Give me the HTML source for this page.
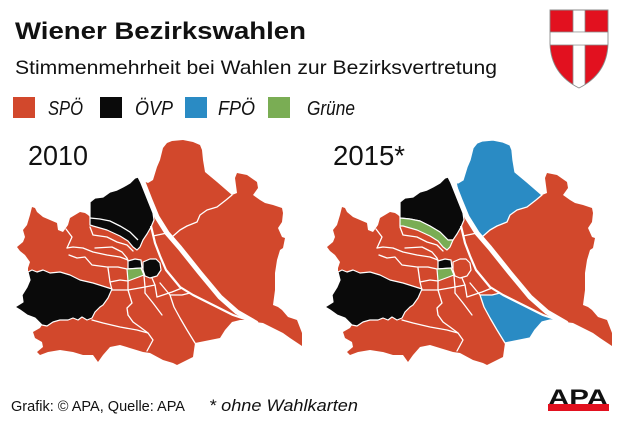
<!DOCTYPE html>
<html>
<head>
<meta charset="utf-8">
<style>
  html,body{margin:0;padding:0;background:#fff;}
  body{width:620px;height:423px;overflow:hidden;}
  svg{display:block;}
  .t{font-family:"Liberation Sans",sans-serif;fill:#111;}
</style>
</head>
<body>
<svg width="620" height="423" viewBox="0 0 620 423" xmlns="http://www.w3.org/2000/svg">
  <rect width="620" height="423" fill="#fff"/>

  <!-- Header -->
  <text class="t" x="15" y="39" font-size="24.5" font-weight="bold" textLength="291" lengthAdjust="spacingAndGlyphs">Wiener Bezirkswahlen</text>
  <text class="t" x="15" y="74" font-size="19.5" textLength="482" lengthAdjust="spacingAndGlyphs">Stimmenmehrheit bei Wahlen zur Bezirksvertretung</text>

  <!-- Legend -->
  <rect x="13" y="97" width="22" height="21" fill="#d2482c"/>
  <text class="t" x="48" y="115" font-size="20.5" font-style="italic" textLength="35" lengthAdjust="spacingAndGlyphs">SPÖ</text>
  <rect x="100" y="97" width="22" height="21" fill="#0a0a0a"/>
  <text class="t" x="135" y="115" font-size="20.5" font-style="italic" textLength="38" lengthAdjust="spacingAndGlyphs">ÖVP</text>
  <rect x="185" y="97" width="22" height="21" fill="#2a8bc4"/>
  <text class="t" x="218" y="115" font-size="20.5" font-style="italic" textLength="37" lengthAdjust="spacingAndGlyphs">FPÖ</text>
  <rect x="268" y="97" width="22" height="21" fill="#7aad54"/>
  <text class="t" x="307" y="115" font-size="20.5" font-style="italic" textLength="48" lengthAdjust="spacingAndGlyphs">Grüne</text>

  <!-- Coat of arms -->
  <defs>
    <clipPath id="shield">
      <path d="M550,10 H608 V44 Q607,74 579,88 Q551,74 550,44 Z"/>
    </clipPath>
  </defs>
  <path d="M550,10 H608 V44 Q607,74 579,88 Q551,74 550,44 Z" fill="#e2111f"/>
  <g clip-path="url(#shield)">
    <rect x="573" y="8" width="12" height="84" fill="#fff" stroke="#8a8a8a" stroke-width="0.8"/>
    <rect x="548" y="32" width="62" height="13" fill="#fff" stroke="#8a8a8a" stroke-width="0.8"/>
    <rect x="573.4" y="32.4" width="11.2" height="12.2" fill="#fff"/>
  </g>
  <path d="M550,10 H608 V44 Q607,74 579,88 Q551,74 550,44 Z" fill="none" stroke="#8a8a8a" stroke-width="0.9"/>

  <!-- Year labels -->
  <text class="t" x="28" y="165" font-size="28" textLength="60" lengthAdjust="spacingAndGlyphs">2010</text>
  <text class="t" x="333" y="165" font-size="28" textLength="72" lengthAdjust="spacingAndGlyphs">2015*</text>

  <!-- ================= MAP 2010 ================= -->
  <g id="m2010">
    <polygon fill="#d2482c" points="17,247 23,242 25,237 23,230 27,225 30,215 32,207 35,208 37,212 43,217 50,220 57,223 58,230 63,232 68,225 70,218 75,215 80,212 85,213 88,215 90,217 90,202 95,198 103,197 110,192 117,190 123,187 130,183 135,178 138,177 143,181 148,183 153,180 157,167 160,160 163,148 167,143 172,141 183,140 193,142 200,145 202,150 203,160 205,172 217,182 232,195 237,193 235,178 237,173 247,175 257,182 258,188 253,195 260,200 265,203 273,205 282,208 283,213 282,222 278,228 282,237 285,238 283,248 280,250 277,260 275,273 275,290 273,305 278,307 282,310 288,317 297,320 302,333 302,346 290,338 283,333 273,328 263,323 255,322 248,320 240,320 232,322 225,330 220,338 210,340 195,343 193,357 177,365 173,363 163,360 150,353 143,352 120,345 110,347 103,355 98,362 93,355 83,355 73,352 60,350 48,352 40,355 37,352 43,347 42,342 35,338 33,332 40,328 42,325 35,318 27,315 20,310 15,307 23,302 22,295 27,287 30,280 28,273 28,268 30,262 25,255 20,251"/>
    <g fill="none" stroke="#fff" stroke-width="1.3" stroke-linejoin="round" stroke-linecap="round">
      <polyline points="232,195 226,200 217,207 207,210 200,215 197,222 187,226 180,230 172,237"/>
      <polyline points="66,229 72,237 67,248"/>
      <polyline points="67,248 73,247 83,248 93,252 107,255 120,257 128,260"/>
      <polyline points="90,227 93,235 107,237 117,242 127,245 133,251"/>
      <polyline points="69,255 77,258 85,257 92,265 107,267 118,267 127,269"/>
      <polyline points="95,248 112,247 122,252 127,258 128,261"/>
      <polyline points="110,282 120,280 128,281"/>
      <polyline points="108,268 110,282 112,290"/>
      <polyline points="112,290 128,290 145,287 155,285"/>
      <polyline points="128,281 128,290 132,303 127,308 128,315"/>
      <polyline points="144,276 145,287 145,293"/>
      <polyline points="152,278 155,285 157,297"/>
      <polyline points="145,293 153,303 162,315"/>
      <polyline points="157,297 172,292 182,288"/>
      <polyline points="92,320 103,323 120,327 137,330 148,333"/>
      <polyline points="128,315 133,322 140,327 148,333 153,340 147,351"/>
      <polyline points="153,236 167,233"/>
      <polyline points="160,283 170,295 182,295 190,293"/>
      <polyline points="170,295 174,307 180,318 187,330 195,343"/>
    </g>
    <polygon fill="#0a0a0a" stroke="#fff" stroke-width="1.2" stroke-linejoin="round" points="90,217 90,202 95,198 103,197 110,192 117,190 123,187 130,183 135,178 138,177 141,183 145,193 149,203 153,213 154,220 151,227 147,234 143,240 140,247 137,250 133,247 128,241 120,236 107,230 93,226 90,225"/>
    <polyline fill="none" stroke="#fff" stroke-width="1.3" points="90,218 100,219 110,221 120,226 130,232 138,240"/>
    <polygon fill="#0a0a0a" stroke="#fff" stroke-width="1.2" stroke-linejoin="round" points="28,272 32,270 37,272 43,270 50,273 60,272 70,275 80,280 93,283 112,289 108,298 103,305 100,307 95,312 92,318 87,320 82,317 78,320 73,318 68,320 60,320 53,322 47,326 42,325 35,318 27,315 20,310 15,307 23,302 22,295 27,287 30,280"/>
    <polygon fill="#0a0a0a" stroke="#fff" stroke-width="1.2" stroke-linejoin="round" points="128,261 135,259 141,260 142,268 128,269"/>
    <polygon fill="#7aad54" stroke="#fff" stroke-width="1.2" stroke-linejoin="round" points="127,269 141,268 144,275 136,278 128,281"/>
    <polygon fill="#0a0a0a" stroke="#fff" stroke-width="1.2" stroke-linejoin="round" points="143,262 150,259 156,259 160,263 161,270 157,276 150,278 145,276 143,270"/>
    <polyline fill="none" stroke="#fff" stroke-width="2.2" stroke-linejoin="round" points="151,226 155,243 160,256 166,270 180,287 193,295 217,307 233,315 254,322"/>
    <polyline fill="none" stroke="#fff" stroke-width="5" stroke-linejoin="round" stroke-linecap="round" points="141,177 150,200 157,217 167,233 180,248 200,273 220,297 237,312 256,323"/>
  </g>

  <!-- ================= MAP 2015 ================= -->
  <g transform="translate(310,0)">
    <polygon fill="#d2482c" points="17,247 23,242 25,237 23,230 27,225 30,215 32,207 35,208 37,212 43,217 50,220 57,223 58,230 63,232 68,225 70,218 75,215 80,212 85,213 88,215 90,217 90,202 95,198 103,197 110,192 117,190 123,187 130,183 135,178 138,177 143,181 148,183 153,180 157,167 160,160 163,148 167,143 172,141 183,140 193,142 200,145 202,150 203,160 205,172 217,182 232,195 237,193 235,178 237,173 247,175 257,182 258,188 253,195 260,200 265,203 273,205 282,208 283,213 282,222 278,228 282,237 285,238 283,248 280,250 277,260 275,273 275,290 273,305 278,307 282,310 288,317 297,320 302,333 302,346 290,338 283,333 273,328 263,323 255,322 248,320 240,320 232,322 225,330 220,338 210,340 195,343 193,357 177,365 173,363 163,360 150,353 143,352 120,345 110,347 103,355 98,362 93,355 83,355 73,352 60,350 48,352 40,355 37,352 43,347 42,342 35,338 33,332 40,328 42,325 35,318 27,315 20,310 15,307 23,302 22,295 27,287 30,280 28,273 28,268 30,262 25,255 20,251"/>
    <g fill="none" stroke="#fff" stroke-width="1.3" stroke-linejoin="round" stroke-linecap="round">
      <polyline points="66,229 72,237 67,248"/>
      <polyline points="67,248 73,247 83,248 93,252 107,255 120,257 128,260"/>
      <polyline points="90,227 93,235 107,237 117,242 127,245 133,251"/>
      <polyline points="69,255 77,258 85,257 92,265 107,267 118,267 127,269"/>
      <polyline points="95,248 112,247 122,252 127,258 128,261"/>
      <polyline points="110,282 120,280 128,281"/>
      <polyline points="108,268 110,282 112,290"/>
      <polyline points="112,290 128,290 145,287 155,285"/>
      <polyline points="128,281 128,290 132,303 127,308 128,315"/>
      <polyline points="144,276 145,287 145,293"/>
      <polyline points="152,278 155,285 157,297"/>
      <polyline points="145,293 153,303 162,315"/>
      <polyline points="157,297 172,292 182,288"/>
      <polyline points="92,320 103,323 120,327 137,330 148,333"/>
      <polyline points="128,315 133,322 140,327 148,333 153,340 147,351"/>
      <polyline points="153,236 167,233"/>
      <polyline points="160,283 170,295"/>
    </g>
    <!-- Floridsdorf (FPÖ) -->
    <polygon fill="#2a8bc4" stroke="#fff" stroke-width="1.3" stroke-linejoin="round" points="146,182 148,183 153,180 157,167 160,160 163,148 167,143 172,141 183,140 193,142 200,145 202,150 203,160 205,172 217,182 232,195 226,200 217,207 207,210 200,215 197,222 187,226 180,230 172,237 165,230 158,218 152,203 148,192"/>
    <!-- Simmering (FPÖ) -->
    <polygon fill="#2a8bc4" stroke="#fff" stroke-width="1.3" stroke-linejoin="round" points="170,295 182,295 190,293 193,295 217,307 233,315 253,322 248,320 240,320 232,322 225,330 220,338 210,340 195,343 187,330 180,318 174,307"/>
    <!-- Döbling -->
    <polygon fill="#0a0a0a" stroke="#fff" stroke-width="1.2" stroke-linejoin="round" points="90,217 90,202 95,198 103,197 110,192 117,190 123,187 130,183 135,178 138,177 141,183 145,193 149,203 153,213 154,220 151,227 147,234 143,240 138,240 130,232 120,226 110,221 100,219 90,218"/>
    <!-- Währing (Grüne) -->
    <polygon fill="#7aad54" stroke="#fff" stroke-width="1.2" stroke-linejoin="round" points="90,218 100,219 110,221 120,226 130,232 138,240 143,240 140,247 137,250 133,247 128,241 120,236 107,230 93,226 90,226"/>
    <!-- Hietzing -->
    <polygon fill="#0a0a0a" stroke="#fff" stroke-width="1.2" stroke-linejoin="round" points="28,272 32,270 37,272 43,270 50,273 60,272 70,275 80,280 93,283 112,289 108,298 103,305 100,307 95,312 92,318 87,320 82,317 78,320 73,318 68,320 60,320 53,322 47,326 42,325 35,318 27,315 20,310 15,307 23,302 22,295 27,287 30,280"/>
    <!-- Josefstadt -->
    <polygon fill="#0a0a0a" stroke="#fff" stroke-width="1.2" stroke-linejoin="round" points="128,261 135,259 141,260 142,268 128,269"/>
    <!-- Neubau -->
    <polygon fill="#7aad54" stroke="#fff" stroke-width="1.2" stroke-linejoin="round" points="127,269 141,268 144,275 136,278 128,281"/>
    <!-- Innere Stadt -->
    <polygon fill="#d2482c" stroke="#fff" stroke-width="1.2" stroke-linejoin="round" points="143,262 150,259 156,259 160,263 161,270 157,276 150,278 145,276 143,270"/>
    <polyline fill="none" stroke="#fff" stroke-width="2.2" stroke-linejoin="round" points="151,226 155,243 160,256 166,270 180,287 193,295 217,307 233,315 254,322"/>
    <polyline fill="none" stroke="#fff" stroke-width="5" stroke-linejoin="round" stroke-linecap="round" points="141,177 150,200 157,217 167,233 180,248 200,273 220,297 237,312 256,323"/>
  </g>

  <!-- Footer -->
  <text class="t" x="11" y="411" font-size="14.5" textLength="174" lengthAdjust="spacingAndGlyphs">Grafik: © APA, Quelle: APA</text>
  <text class="t" x="209" y="411" font-size="17" font-style="italic" textLength="149" lengthAdjust="spacingAndGlyphs">* ohne Wahlkarten</text>

  <!-- APA logo -->
  <text x="548" y="405" font-family="'Liberation Sans',sans-serif" font-size="22" font-weight="bold" fill="#111" textLength="60" lengthAdjust="spacingAndGlyphs">APA</text>
  <rect x="548" y="404" width="61" height="7" fill="#e2111f"/>
</svg>
</body>
</html>
